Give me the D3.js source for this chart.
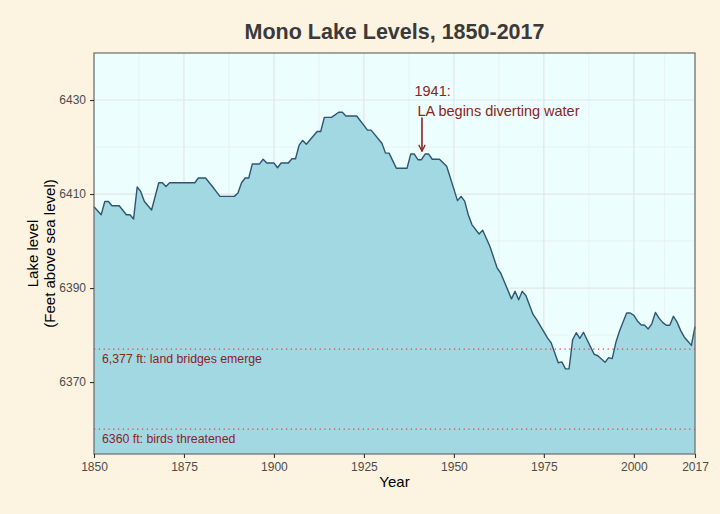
<!DOCTYPE html>
<html lang="en">
<head>
  <meta charset="UTF-8">
  <title>Mono Lake Levels</title>
  <script src="https://cdn.jsdelivr.net/npm/d3@7"></script>
  <style>
    body { margin: 0; background: #fdf3e1; }
    text { font-family: "Liberation Sans", Arial, sans-serif; }
  </style>
</head>
<body>
  <script>

    // lake level readings (year, feet above sea level)
    var years = [1850, 1852, 1853, 1854, 1855, 1857, 1859, 1860, 1861, 1862, 1863, 1864, 1866,
      1868, 1869, 1870, 1871, 1878, 1879, 1881, 1883, 1885, 1889, 1890, 1891, 1892, 1893,
      1894, 1896, 1897, 1898, 1900, 1901, 1902, 1904, 1905, 1906, 1907, 1908, 1909, 1912,
      1913, 1914, 1916, 1918, 1919, 1920, 1923, 1926, 1927, 1930, 1931, 1932, 1934, 1937,
      1938, 1939, 1940, 1941, 1942, 1943, 1944, 1946, 1948, 1951, 1952, 1953, 1954, 1955,
      1957, 1958, 1960, 1962, 1963, 1966, 1967, 1968, 1969, 1970, 1972, 1973, 1976, 1977,
      1979, 1980, 1981, 1982, 1983, 1984, 1985, 1986, 1987, 1989, 1990, 1992, 1993, 1994,
      1995, 1996, 1998, 1999, 2000, 2001, 2002, 2003, 2004, 2005, 2006, 2007, 2008, 2009,
      2010, 2011, 2012, 2013, 2014, 2016, 2017];
    var levels = [6407.3, 6405.6, 6408.4, 6408.4, 6407.5, 6407.5, 6405.6, 6405.6, 6404.7, 6411.5, 6410.5, 6408.4, 6406.6,
      6412.4, 6412.4, 6411.6, 6412.4, 6412.4, 6413.4, 6413.4, 6411.5, 6409.5, 6409.5, 6410.2, 6412.4, 6413.4, 6413.4,
      6416.4, 6416.4, 6417.4, 6416.6, 6416.6, 6415.6, 6416.6, 6416.6, 6417.5, 6417.5, 6420.4, 6421.4, 6420.6, 6423.3,
      6423.3, 6426.3, 6426.3, 6427.4, 6427.4, 6426.6, 6426.6, 6423.6, 6423.6, 6420.8, 6418.7, 6418.7, 6415.5, 6415.5,
      6418.5, 6418.5, 6417.3, 6417.3, 6418.5, 6418.5, 6417.4, 6417.4, 6415.9, 6408.6, 6409.5, 6408.5, 6405.6, 6403.5,
      6401.5, 6402.3, 6398.9, 6394.3, 6393.2, 6387.7, 6389.3, 6387.5, 6389.3, 6388.4, 6384.4, 6383.3, 6379.4, 6378.4,
      6374.1, 6374.3, 6372.8, 6372.8, 6379.0, 6380.5, 6379.3, 6380.6, 6379.0, 6375.9, 6375.6, 6374.2, 6375.2, 6375.0,
      6378.4, 6380.8, 6384.7, 6384.7, 6384.2, 6383.0, 6382.2, 6382.1, 6381.3, 6382.4, 6384.8, 6383.6, 6382.7, 6382.1,
      6382.1, 6384.0, 6382.8, 6381.0, 6379.6, 6377.8, 6381.8];

    var xTicks = [1850, 1875, 1900, 1925, 1950, 1975, 2000, 2017];
    var yTicks = [6370, 6390, 6410, 6430];
    var xMinor = [1862.5, 1887.5, 1912.5, 1937.5, 1962.5, 1987.5, 2008.5];
    var yMinor = [6360, 6380, 6400, 6420];

    var thresholds = [6377, 6360];
    var thresholdLabels = ["6,377 ft: land bridges emerge", "6360 ft: birds threatened"];

    var eventYear = 1941;
    var eventLabels = ["1941:", "LA begins diverting water"];

    var width = 720, height = 514;
    var margin = { top: 53, right: 25, bottom: 60, left: 94 };
    var darkRed = "#8b2323";

    var data = years.map(function(y, i) { return { year: y, level: levels[i] }; });

    var svg = d3.select("body")
      .append("svg")
        .attr("width", width)
        .attr("height", height)
        .style("display", "block")
        .style("background-color", "#fdf3e1");

    var x = d3.scaleLinear()
      .domain([1850, 2017])
      .range([margin.left, width - margin.right]);

    var y = d3.scaleLinear()
      .domain([6354.7, 6440])
      .range([height - margin.bottom, margin.top]);

    // panel background
    svg.append("rect")
      .attr("x", x.range()[0])
      .attr("y", y.range()[1])
      .attr("width", x.range()[1] - x.range()[0])
      .attr("height", y.range()[0] - y.range()[1])
      .attr("fill", "#ecfefe");

    // grid lines
    var grid = svg.append("g");
    grid.selectAll(".vminor").data(xMinor).enter().append("line")
      .attr("x1", x).attr("x2", x)
      .attr("y1", y.range()[0]).attr("y2", y.range()[1])
      .attr("stroke", "#ebebeb").attr("stroke-width", 0.6);
    grid.selectAll(".hminor").data(yMinor).enter().append("line")
      .attr("y1", y).attr("y2", y)
      .attr("x1", x.range()[0]).attr("x2", x.range()[1])
      .attr("stroke", "#ebebeb").attr("stroke-width", 0.6);
    grid.selectAll(".vmajor").data(xTicks).enter().append("line")
      .attr("x1", x).attr("x2", x)
      .attr("y1", y.range()[0]).attr("y2", y.range()[1])
      .attr("stroke", "#e5e5e5").attr("stroke-width", 1.2);
    grid.selectAll(".hmajor").data(yTicks).enter().append("line")
      .attr("y1", y).attr("y2", y)
      .attr("x1", x.range()[0]).attr("x2", x.range()[1])
      .attr("stroke", "#e5e5e5").attr("stroke-width", 1.2);

    // lake area and line
    var area = d3.area()
      .x(function(d) { return x(d.year); })
      .y0(y.range()[0])
      .y1(function(d) { return y(d.level); });

    var line = d3.line()
      .x(function(d) { return x(d.year); })
      .y(function(d) { return y(d.level); });

    svg.append("path")
      .datum(data)
      .attr("d", area)
      .attr("fill", "#a2d8e1");

    svg.append("path")
      .datum(data)
      .attr("d", line)
      .attr("fill", "none")
      .attr("stroke", "#2f5573")
      .attr("stroke-width", 1.4)
      .attr("stroke-linejoin", "round");

    // threshold lines
    svg.selectAll(".threshold").data(thresholds).enter().append("line")
      .attr("x1", x.range()[0]).attr("x2", x.range()[1])
      .attr("y1", y).attr("y2", y)
      .attr("stroke", "#e8364a")
      .attr("stroke-width", 1.2)
      .attr("stroke-dasharray", "1.2,3.6");

    svg.selectAll(".thresholdLabel").data(thresholds).enter().append("text")
      .attr("x", x.range()[0] + 8)
      .attr("y", function(d) { return y(d) + 14; })
      .attr("fill", darkRed)
      .attr("font-size", "12.3px")
      .text(function(d, i) { return thresholdLabels[i]; });

    // annotation
    svg.append("defs").append("marker")
      .attr("id", "arrow")
      .attr("viewBox", "0 0 10 10")
      .attr("refX", 9).attr("refY", 5)
      .attr("markerWidth", 8).attr("markerHeight", 8)
      .attr("markerUnits", "userSpaceOnUse")
      .attr("orient", "auto")
      .append("path")
        .attr("d", "M1,1 L9,5 L1,9")
        .attr("fill", "none")
        .attr("stroke", darkRed)
        .attr("stroke-width", 1.6);

    svg.append("line")
      .attr("x1", x(eventYear) + 0.5).attr("x2", x(eventYear) + 0.5)
      .attr("y1", y(6426.3)).attr("y2", y(6419.1))
      .attr("stroke", darkRed)
      .attr("stroke-width", 1.6)
      .attr("marker-end", "url(#arrow)");

    svg.append("text")
      .attr("x", x(eventYear) - 7)
      .attr("y", y(6430.9))
      .attr("fill", darkRed)
      .attr("font-size", "14.5px")
      .text(eventLabels[0]);
    svg.append("text")
      .attr("x", x(eventYear) - 4)
      .attr("y", y(6426.7))
      .attr("fill", darkRed)
      .attr("font-size", "14.5px")
      .text(eventLabels[1]);

    // panel border
    svg.append("rect")
      .attr("x", x.range()[0])
      .attr("y", y.range()[1])
      .attr("width", x.range()[1] - x.range()[0])
      .attr("height", y.range()[0] - y.range()[1])
      .attr("fill", "none")
      .attr("stroke", "#6b6b6b")
      .attr("stroke-width", 1.2);

    // axes
    var xAxis = svg.append("g")
      .attr("transform", "translate(0," + y.range()[0] + ")")
      .call(d3.axisBottom(x).tickValues(xTicks).tickFormat(d3.format("d")).tickSize(4).tickPadding(4));
    var yAxis = svg.append("g")
      .attr("transform", "translate(" + x.range()[0] + ",0)")
      .call(d3.axisLeft(y).tickValues(yTicks).tickFormat(d3.format("d")).tickSize(4).tickPadding(4));

    [xAxis, yAxis].forEach(function(a) {
      a.select(".domain").remove();
      a.selectAll(".tick line").attr("stroke", "#333").attr("stroke-width", 1.1);
      a.selectAll(".tick text")
        .attr("fill", "#4d4d4d")
        .attr("font-size", "12px")
        .attr("font-family", "'Liberation Sans', Arial, sans-serif");
    });

    // titles
    svg.append("text")
      .attr("x", (x.range()[0] + x.range()[1]) / 2)
      .attr("y", 39)
      .attr("text-anchor", "middle")
      .attr("font-size", "21.5px")
      .attr("font-weight", "bold")
      .attr("fill", "#3a3a3a")
      .text("Mono Lake Levels, 1850-2017");

    svg.append("text")
      .attr("x", (x.range()[0] + x.range()[1]) / 2)
      .attr("y", 487)
      .attr("text-anchor", "middle")
      .attr("font-size", "15px")
      .attr("fill", "#000")
      .text("Year");

    var yTitle = svg.append("text")
      .attr("transform", "translate(38," + (y.range()[0] + y.range()[1]) / 2 + ") rotate(-90)")
      .attr("text-anchor", "middle")
      .attr("font-size", "15px")
      .attr("fill", "#000");
    yTitle.append("tspan").attr("x", 0).attr("dy", 0).text("Lake level");
    yTitle.append("tspan").attr("x", 0).attr("dy", 17).text("(Feet above sea level)");

  </script>
</body>
</html>
